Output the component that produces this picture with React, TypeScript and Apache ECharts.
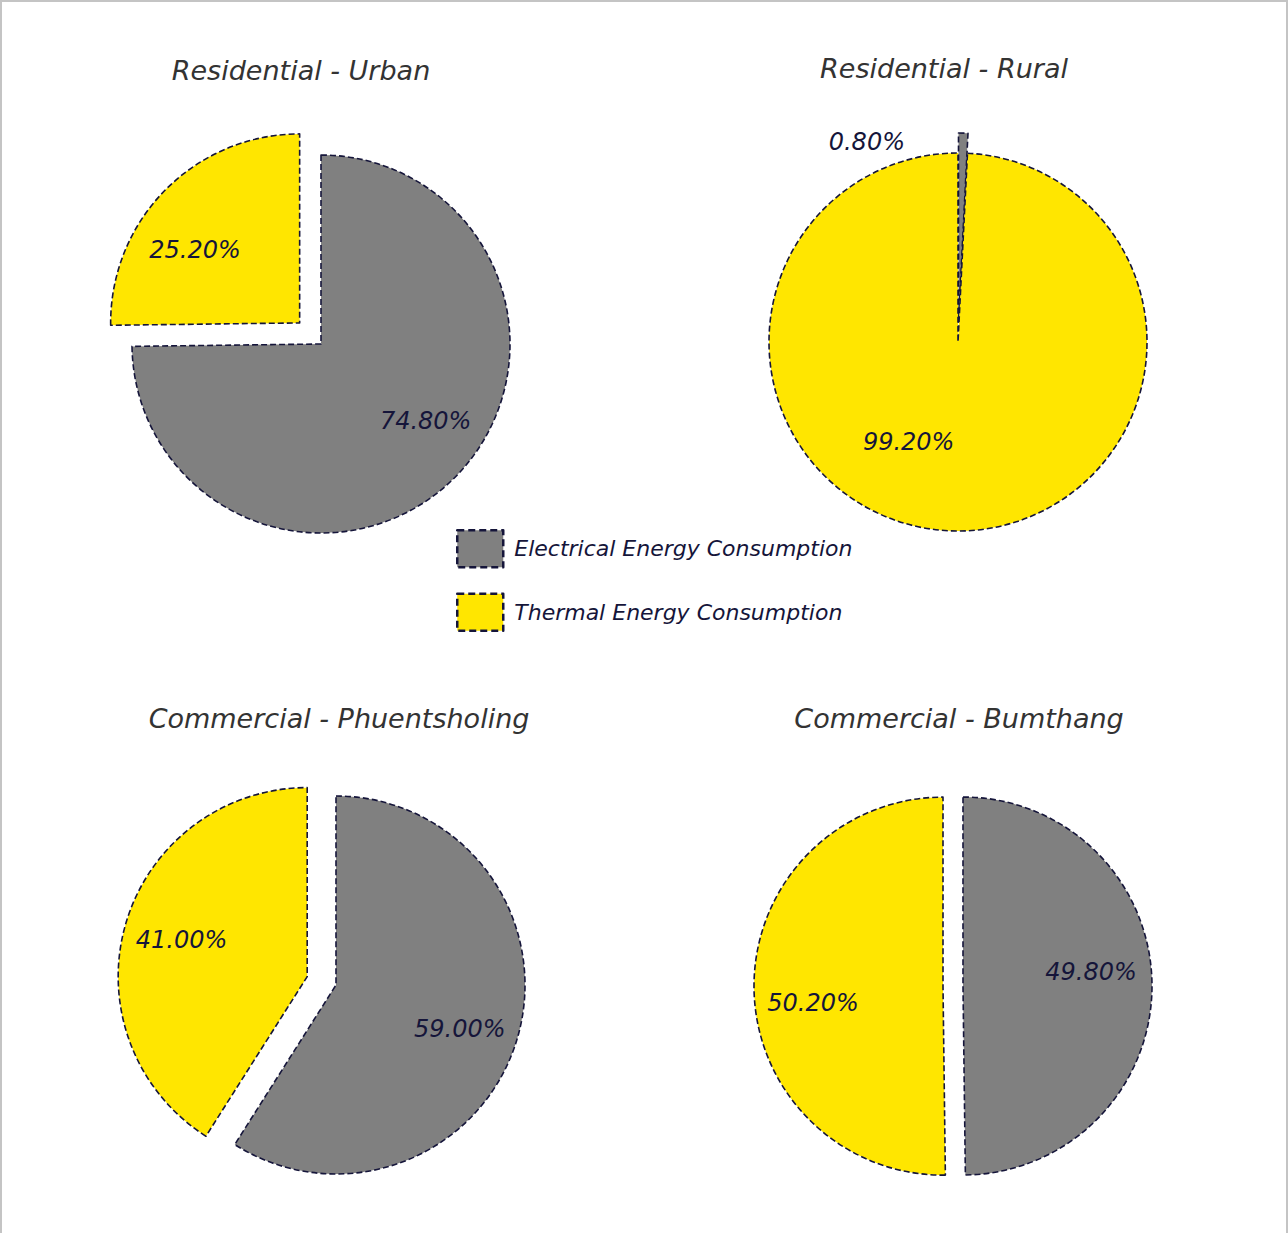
import React, { useEffect, useRef } from 'react';
import * as echarts from 'echarts';

// ---- data ----
const categories = ['Electrical Energy Consumption', 'Thermal Energy Consumption'];
const chartTitles = [
  'Residential - Urban',
  'Residential - Rural',
  'Commercial - Phuentsholing',
  'Commercial - Bumthang',
];
const urbanValues = [74.8, 25.2];
const ruralValues = [0.8, 99.2];
const phuentsholingValues = [59.0, 41.0];
const bumthangValues = [49.8, 50.2];

// ---- style / layout ----
const COLORS = ['#808080', '#FFE600'];
const NAVY = '#15153a';
const TITLE_COLOR = '#333333';
const FONT = '"DejaVu Sans", "Open Sans", sans-serif';
const R = 189;
const LABEL_R0 = 71; // (LABEL_R0 + R) / 2 = label distance from centre

const pies = [
  { values: urbanValues, center: [321, 344], explode: 1, offset: 30, title: [301, 70],
    shift: [[10, -16], [-10, 21]] },
  { values: ruralValues, center: [958, 342], explode: 0, offset: 20, title: [944, 68],
    shift: [[-95, -47], [-46, -33]] },
  { values: phuentsholingValues, center: [336, 985], explode: 1, offset: 30, title: [339, 718],
    shift: [[-4, 7], [2, 0]] },
  { values: bumthangValues, center: [963, 986], explode: 1, offset: 20, title: [959, 718],
    shift: [[-5, -13], [3, 16]] },
];

const sliceBorder = { borderColor: NAVY, borderWidth: 1.6, borderType: [6, 3] as any };

function buildOption(): echarts.EChartsOption {
  const series: any[] = [];
  pies.forEach((p, i) => {
    series.push({
      type: 'pie',
      name: chartTitles[i],
      center: p.center,
      radius: [0, R],
      startAngle: 90,
      clockwise: true,
      selectedMode: 'multiple',
      selectedOffset: p.offset,
      avoidLabelOverlap: false,
      silent: true,
      label: { show: false },
      labelLine: { show: false },
      emphasis: { disabled: true, scale: false },
      itemStyle: sliceBorder,
      select: { itemStyle: sliceBorder },
      data: categories.map((name, k) => ({
        name,
        value: p.values[k],
        selected: k === p.explode,
        itemStyle: { color: COLORS[k] },
        select: { itemStyle: { color: COLORS[k] } },
      })),
    });
    series.push({
      type: 'pie',
      name: chartTitles[i] + ' labels',
      center: p.center,
      radius: [LABEL_R0, R],
      startAngle: 90,
      clockwise: true,
      selectedMode: 'multiple',
      selectedOffset: p.offset,
      avoidLabelOverlap: false,
      silent: true,
      z: 5,
      itemStyle: { color: 'rgba(0,0,0,0)', borderWidth: 0 },
      select: { itemStyle: { color: 'rgba(0,0,0,0)', borderWidth: 0 } },
      emphasis: { disabled: true, scale: false },
      labelLine: { show: false },
      label: {
        show: true,
        position: 'inside',
        formatter: (prm: any) => Number(prm.value).toFixed(2) + '%',
        fontFamily: FONT,
        fontStyle: 'italic',
        fontSize: 24,
        color: NAVY,
      },
      labelLayout: (prm: any) => ({
        dx: p.shift[prm.dataIndex][0],
        dy: p.shift[prm.dataIndex][1],
      }),
      data: categories.map((name, k) => ({
        name,
        value: p.values[k],
        selected: k === p.explode,
      })),
    });
  });

  return {
    animation: false,
    backgroundColor: '#ffffff',
    tooltip: { show: false },
    legend: {
      orient: 'vertical',
      left: 456,
      top: 529,
      padding: 0,
      itemWidth: 46,
      itemHeight: 37,
      itemGap: 24,
      icon: 'rect',
      selectedMode: false,
      textStyle: {
        fontFamily: FONT,
        fontStyle: 'italic',
        fontSize: 22,
        color: NAVY,
        padding: [0, 0, 0, 6],
      },
      itemStyle: { borderColor: NAVY, borderWidth: 2.5, borderType: [7, 4] as any },
      data: categories.map((name, k) => ({ name, itemStyle: { color: COLORS[k] } })),
    },
    graphic: pies.map((p, i) => ({
      type: 'text',
      x: p.title[0],
      y: p.title[1],
      style: {
        text: chartTitles[i],
        fontFamily: FONT,
        fontStyle: 'italic',
        fontSize: 27,
        fill: TITLE_COLOR,
        textAlign: 'center',
        textVerticalAlign: 'middle',
      },
    })),
    series,
  };
}

export default function App() {
  const ref = useRef<HTMLDivElement>(null);
  useEffect(() => {
    document.body.style.margin = '0';
    if (!ref.current) return;
    const chart = echarts.init(ref.current, undefined, { renderer: 'svg' });
    chart.setOption(buildOption());
    return () => chart.dispose();
  }, []);
  return (
    <div style={{ position: 'relative', width: 1288, height: 1233, background: '#fff' }}>
      <div ref={ref} style={{ position: 'absolute', left: 0, top: 0, width: 1288, height: 1233 }} />
      <div
        style={{
          position: 'absolute', left: 0, top: 0, width: 1288, height: 1240, boxSizing: 'border-box',
          borderTop: '2px solid #c4c4c4', borderLeft: '2px solid #c4c4c4', borderRight: '2px solid #c4c4c4',
          pointerEvents: 'none',
        }}
      />
    </div>
  );
}
